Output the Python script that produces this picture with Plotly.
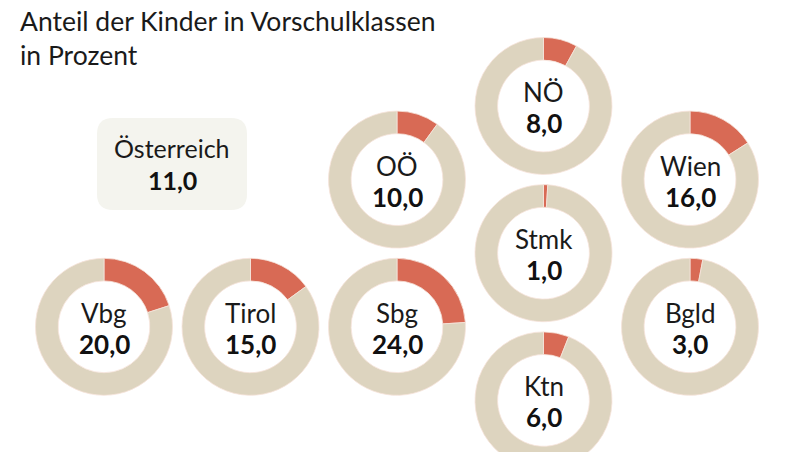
import plotly.graph_objects as go

# ---- data ----
regions = ["Vbg", "Tirol", "Sbg", "OÖ", "NÖ", "Stmk", "Ktn", "Wien", "Bgld"]
shares = [20.0, 15.0, 24.0, 10.0, 8.0, 1.0, 6.0, 16.0, 3.0]
austria_label = "Österreich"
austria_value = 11.0
title_lines = ["Anteil der Kinder in Vorschulklassen", "in Prozent"]

# ---- layout (hex-grid map positions: column, half-row) ----
grid_pos = {
    "Vbg": (0, 3), "Tirol": (1, 3), "Sbg": (2, 3), "OÖ": (2, 1),
    "NÖ": (3, 0), "Stmk": (3, 2), "Ktn": (3, 4), "Wien": (4, 1), "Bgld": (4, 3),
}
W, H = 800, 472
X0, DX = 104, 146.5
Y0, DY = 106, 73.6
R = 68.5

RED = "#d86a55"
BEIGE = "#ddd4bf"
FONT = "Lato"


def fmt(v):
    return f"{v:.1f}".replace(".", ",")


def px(x):
    return x / W


def py(y):
    return 1 - y / H


fig = go.Figure()
annotations = []
for name, val in zip(regions, shares):
    col, row = grid_pos[name]
    cx = X0 + col * DX
    cy = Y0 + row * DY
    fig.add_trace(go.Pie(
        values=[val, 100 - val],
        labels=["Vorschule", "Rest"],
        sort=False,
        direction="clockwise",
        rotation=0,
        hole=0.67,
        textinfo="none",
        hoverinfo="skip",
        showlegend=False,
        marker=dict(colors=[RED, BEIGE], line=dict(color="#f6e3da", width=0.8)),
        domain=dict(x=[px(cx - R), px(cx + R)], y=[py(cy + R), py(cy - R)]),
    ))
    annotations.append(dict(x=px(cx), y=py(cy - 14), xref="paper", yref="paper",
                            text=name, showarrow=False, xanchor="center", yanchor="middle",
                            font=dict(family=FONT, size=26, color="#1a1a1a")))
    annotations.append(dict(x=px(cx), y=py(cy + 17), xref="paper", yref="paper",
                            text=f"<b>{fmt(val)}</b>", showarrow=False, xanchor="center",
                            yanchor="middle", font=dict(family=FONT, size=26, color="#111111")))

# Österreich box
bx0, bx1, by0, by1 = 97, 247, 118, 210
rr = 16
path = (f"M {px(bx0+rr)},{py(by0)} L {px(bx1-rr)},{py(by0)} Q {px(bx1)},{py(by0)} {px(bx1)},{py(by0+rr)} "
        f"L {px(bx1)},{py(by1-rr)} Q {px(bx1)},{py(by1)} {px(bx1-rr)},{py(by1)} L {px(bx0+rr)},{py(by1)} "
        f"Q {px(bx0)},{py(by1)} {px(bx0)},{py(by1-rr)} L {px(bx0)},{py(by0+rr)} Q {px(bx0)},{py(by0)} {px(bx0+rr)},{py(by0)} Z")
shapes = [dict(type="path", path=path, xref="paper", yref="paper",
               fillcolor="#f4f4ee", line=dict(width=0), layer="below")]
bcx = (bx0 + bx1) / 2
annotations.append(dict(x=px(bcx), y=py(148), xref="paper", yref="paper", text=austria_label,
                        showarrow=False, xanchor="center", yanchor="middle",
                        font=dict(family=FONT, size=25, color="#1a1a1a")))
annotations.append(dict(x=px(bcx), y=py(180), xref="paper", yref="paper",
                        text=f"<b>{fmt(austria_value)}</b>", showarrow=False, xanchor="center",
                        yanchor="middle", font=dict(family=FONT, size=25, color="#111111")))

# Title
annotations.append(dict(x=px(18), y=py(3), xref="paper", yref="paper",
                        text="<br>".join(title_lines), showarrow=False, xanchor="left",
                        yanchor="top", align="left",
                        font=dict(family=FONT, size=26.5, color="#1a1a1a")))

fig.update_layout(
    width=W, height=H,
    margin=dict(l=0, r=0, t=0, b=0),
    paper_bgcolor="white", plot_bgcolor="white",
    annotations=annotations, shapes=shapes,
)

fig.write_html("out.html", config={"displayModeBar": False},
               post_script="document.body.style.margin='0';document.body.style.overflow='hidden';")
